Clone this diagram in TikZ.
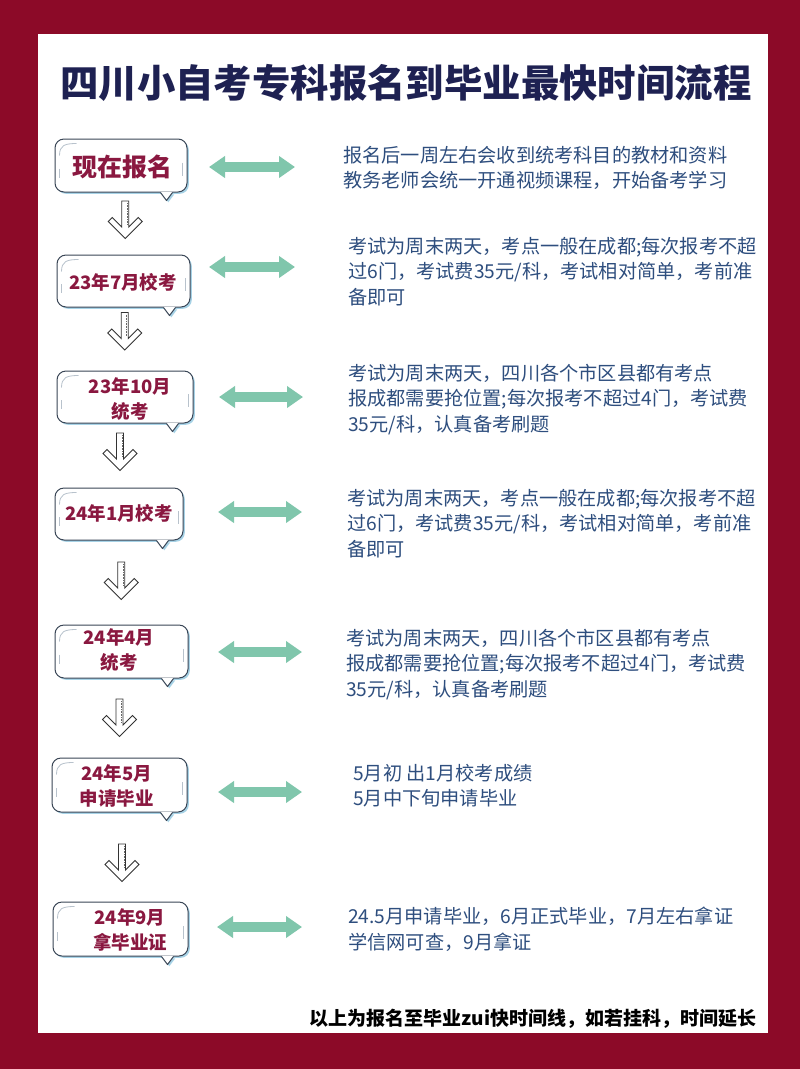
\documentclass[tikz,border=0pt]{standalone}
\usepackage{fontspec}
\setmainfont{Noto Sans CJK SC}
\usetikzlibrary{arrows.meta,calc,shadows}
\definecolor{framered}{HTML}{8C0A28}
\definecolor{titleblue}{HTML}{1E2152}
\definecolor{labelred}{HTML}{8A1840}
\definecolor{textblue}{HTML}{2E4E7E}
\definecolor{tealarrow}{HTML}{80C6AC}
\definecolor{bubbleline}{HTML}{3A4656}
\definecolor{bubbleshadow}{HTML}{A6D2E6}
\definecolor{decogray}{HTML}{B8C2CC}
\newcommand\bubbletail[1]{%
  \fill[bubbleshadow] ([xshift=-25.2pt,yshift=-1.8pt]#1.south east) -- ([xshift=-19.2pt,yshift=-9.8pt]#1.south east) -- ([xshift=-13.2pt,yshift=-1.8pt]#1.south east) -- cycle;
  \fill[white] ([xshift=-27pt,yshift=0.7pt]#1.south east) -- ([xshift=-21pt,yshift=-8pt]#1.south east) -- ([xshift=-15pt,yshift=0.7pt]#1.south east) -- cycle;
  \draw[bubbleline,line width=1pt,line join=round] ([xshift=-27pt]#1.south east) -- ([xshift=-21pt,yshift=-8pt]#1.south east) -- ([xshift=-15pt]#1.south east);
  \draw[decogray,line width=0.8pt] ([xshift=5pt,yshift=-17pt]#1.north west) .. controls ([xshift=5pt,yshift=-7pt]#1.north west) and ([xshift=10pt,yshift=-5pt]#1.north west) .. ([xshift=22pt,yshift=-5pt]#1.north west);
  \draw[decogray,line width=0.8pt] ([xshift=4.5pt,yshift=-3pt]#1.west) -- ([xshift=4.5pt,yshift=-12pt]#1.west);
  \draw[decogray,line width=0.8pt] ([xshift=-5pt,yshift=3pt]#1.east) -- ([xshift=-5pt,yshift=-10pt]#1.east);
}
\begin{document}
\begin{tikzpicture}[x=1pt,y=-1pt,
  bubble/.style={draw=bubbleline,line width=1pt,fill=white,rounded corners=9pt,inner sep=0pt,
    drop shadow={shadow xshift=1.8pt,shadow yshift=-1.8pt,fill=bubbleshadow,opacity=1}},
  lab/.style={align=center,inner sep=0pt,text=labelred,font=\bfseries\fontsize{18.5}{25}\selectfont},
  desc/.style={anchor=north west,align=left,inner sep=0pt,text=textblue,font=\fontsize{19.2}{25.5}\selectfont},
  dbl/.style={draw=tealarrow,line width=10pt,{Triangle[width=21pt,length=16pt]}-{Triangle[width=21pt,length=16pt]}},
  hollowdown/.pic={
    \draw[black!80,line width=0.9pt,line join=miter,fill=white] (-3.5,-19) -- (-3.5,7) -- (-13,-2.5) -- (-17,1.5) -- (0,18.5) -- (17,1.5) -- (13,-2.5) -- (3.5,7) -- (3.5,-19) -- cycle;
    \draw[black!60,line width=0.6pt,densely dotted] (1.8,-17) -- (1.8,4);
  }]
\useasboundingbox (0,0) rectangle (800,1069);
\fill[framered] (0,0) rectangle (800,1069);
\fill[white] (37.5,34) rectangle (767.5,1033);

\node[inner sep=0pt,text=titleblue,font=\bfseries\fontsize{38.4}{46}\selectfont] (title) at (406,83) {四川小自考专科报名到毕业最快时间流程};

% bubbles
\node[bubble,minimum width=132pt,minimum height=53pt] (b1) at (121,165.5) {};
\node[bubble,minimum width=133pt,minimum height=52pt] (b2) at (123.5,281) {};
\node[bubble,minimum width=136pt,minimum height=52pt] (b3) at (125,397) {};
\node[bubble,minimum width=128pt,minimum height=52pt] (b4) at (119,514) {};
\node[bubble,minimum width=133pt,minimum height=53pt] (b5) at (121.5,651.5) {};
\node[bubble,minimum width=135pt,minimum height=54pt] (b6) at (119.5,785) {};
\node[bubble,minimum width=135pt,minimum height=54pt] (b7) at (120.5,929) {};
\bubbletail{b1}\bubbletail{b2}\bubbletail{b3}\bubbletail{b4}\bubbletail{b5}\bubbletail{b6}\bubbletail{b7}

% labels
\node[lab,font=\bfseries\fontsize{25}{30}\selectfont] (l1) at (122,167) {现在报名};
\node[lab] (l2) at (123,282) {23年7月校考};
\node[lab] (l3) at (130,399.5) {23年10月\\统考};
\node[lab] (l4) at (119,513) {24年1月校考};
\node[lab] (l5) at (119,650.5) {24年4月\\统考};
\node[lab] (l6) at (116.5,786) {24年5月\\申请毕业};
\node[lab] (l7) at (130,929.5) {24年9月\\拿毕业证};

% down arrows
\pic at ($(b1.south)!0.5!(b2.north)+(3,-3.5)$) {hollowdown};
\pic at ($(b2.south)!0.5!(b3.north)+(0.5,-7.5)$) {hollowdown};
\pic at ($(b3.south)!0.5!(b4.north)+(-2,-3.5)$) {hollowdown};
\pic at ($(b4.south)!0.5!(b5.north)+(1,-1.5)$) {hollowdown};
\pic at ($(b5.south)!0.5!(b6.north)+(-1,0)$) {hollowdown};
\pic at ($(b6.south)!0.5!(b7.north)+(2,6)$) {hollowdown};

% descriptions
\node[desc] (t1) at (343,146) {报名后一周左右会收到统考科目的教材和资料\\教务老师会统一开通视频课程，开始备考学习};
\node[desc] (t2) at (348,237) {考试为周末两天，考点一般在成都;每次报考不超\\过6门，考试费35元/科，考试相对简单，考前准\\备即可};
\node[desc] (t3) at (348,364) {考试为周末两天，四川各个市区县都有考点\\报成都需要抢位置;每次报考不超过4门，考试费\\35元/科，认真备考刷题};
\node[desc] (t4) at (347,489) {考试为周末两天，考点一般在成都;每次报考不超\\过6门，考试费35元/科，考试相对简单，考前准\\备即可};
\node[desc] (t5) at (346,629) {考试为周末两天，四川各个市区县都有考点\\报成都需要抢位置;每次报考不超过4门，考试费\\35元/科，认真备考刷题};
\node[desc] (t6) at (353,764) {5月初 出1月校考成绩\\5月中下旬申请毕业};
\node[desc] (t7) at (348,907) {24.5月申请毕业，6月正式毕业，7月左右拿证\\学信网可查，9月拿证};

% double arrows
\coordinate (d1l) at (209,167); \coordinate (d1r) at (295,167);
\coordinate (d2l) at (209,267); \coordinate (d2r) at (295,267);
\coordinate (d3l) at (219,397); \coordinate (d3r) at (303,397);
\coordinate (d4l) at (218,512); \coordinate (d4r) at (302,512);
\coordinate (d5l) at (218,652); \coordinate (d5r) at (302,652);
\coordinate (d6l) at (218,792); \coordinate (d6r) at (302,792);
\coordinate (d7l) at (217,927); \coordinate (d7r) at (302,927);
\draw[dbl] (d1l) -- (d1r);
\draw[dbl] (d2l) -- (d2r);
\draw[dbl] (d3l) -- (d3r);
\draw[dbl] (d4l) -- (d4r);
\draw[dbl] (d5l) -- (d5r);
\draw[dbl] (d6l) -- (d6r);
\draw[dbl] (d7l) -- (d7r);

\node[inner sep=0pt,font=\bfseries\fontsize{19}{24}\selectfont] (foot) at (533,1019) {以上为报名至毕业zui快时间线，如若挂科，时间延长};
\end{tikzpicture}
\end{document}
